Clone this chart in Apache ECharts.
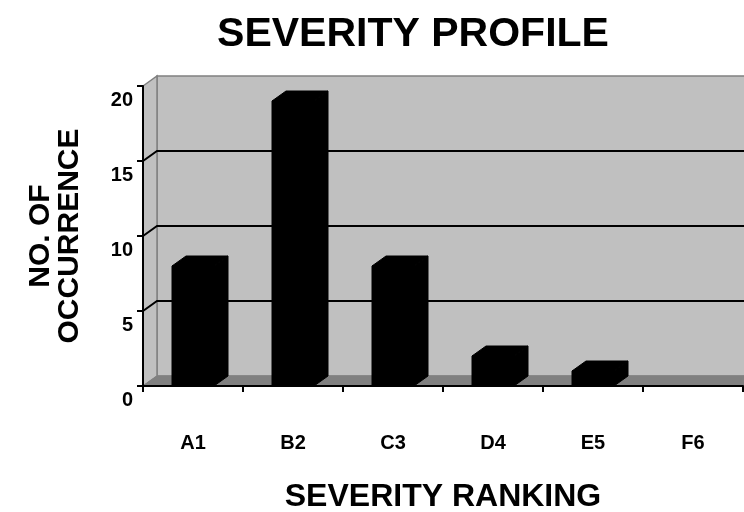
<!DOCTYPE html>
<html>
<head>
<meta charset="utf-8">
<script src="https://cdn.jsdelivr.net/npm/echarts@6/dist/echarts.min.js"></script>
<style>html,body{margin:0;padding:0;background:#fff;}#chart{width:744px;height:512px;}</style>
</head>
<body>
<div id="chart"></div>
<script>
const categories = ['A1', 'B2', 'C3', 'D4', 'E5', 'F6'];
const occurrences = [8, 19, 8, 2, 1, 0];
const gridLevels = [5, 10, 15];
const yMin = 0, yMax = 20, yStep = 5;

const DX = 14, DY = -10;
const FONT = "'Liberation Sans', Arial, sans-serif";

const chart = echarts.init(document.getElementById('chart'), null, {renderer: 'canvas'});

function wallsItem(params, api) {
  const cs = params.coordSys;
  const x = cs.x, y = cs.y, w = cs.width, h = cs.height;
  const wallStyle = {fill: '#c0c0c0', stroke: '#808080', lineWidth: 1.5};
  return {
    type: 'group',
    children: [
      {type: 'polygon', shape: {points: [[x + DX, y + DY], [x + w + DX + 40, y + DY], [x + w + DX + 40, y + h + DY], [x + DX, y + h + DY]]}, style: wallStyle},
      {type: 'polygon', shape: {points: [[x, y], [x + DX, y + DY], [x + DX, y + h + DY], [x, y + h]]}, style: wallStyle},
      {type: 'polygon', shape: {points: [[x, y + h], [x + DX, y + h + DY], [x + w + DX, y + h + DY], [x + w, y + h]]}, style: {fill: '#808080', stroke: '#808080', lineWidth: 1}}
    ]
  };
}

function gridLineItem(params, api) {
  const cs = params.coordSys;
  const v = api.value(0);
  const yv = api.coord([0, v])[1];
  return {
    type: 'polyline',
    shape: {points: [[cs.x, yv], [cs.x + DX, yv + DY], [cs.x + cs.width + DX + 40, yv + DY]]},
    style: {stroke: '#000', lineWidth: 2, fill: null}
  };
}

function barItem(params, api) {
  const idx = api.value(0);
  const val = api.value(1);
  if (!val) return null;
  const base = api.coord([idx, 0]);
  const top = api.coord([idx, val]);
  const bw = api.size([1, 0])[0] * 0.42;
  const x0 = base[0] - bw / 2, x1 = base[0] + bw / 2;
  const yT = top[1], yB = base[1];
  const st = {fill: '#000', stroke: '#000', lineWidth: 1};
  return {
    type: 'group',
    children: [
      {type: 'polygon', shape: {points: [[x1, yT], [x1 + DX, yT + DY], [x1 + DX, yB + DY], [x1, yB]]}, style: st},
      {type: 'polygon', shape: {points: [[x0, yT], [x0 + DX, yT + DY], [x1 + DX, yT + DY], [x1, yT]]}, style: st},
      {type: 'rect', shape: {x: x0, y: yT, width: bw, height: yB - yT}, style: st}
    ]
  };
}

const option = {
  backgroundColor: '#ffffff',
  animation: false,
  title: {
    text: 'SEVERITY PROFILE',
    left: 408,
    top: 9,
    textAlign: 'center',
    textStyle: {fontFamily: FONT, fontSize: 41, fontWeight: 'bold', color: '#000'}
  },
  grid: {left: 143, top: 86, width: 600, height: 300, containLabel: false, outerBoundsMode: 'none'},
  xAxis: {
    type: 'category',
    data: categories,
    boundaryGap: true,
    z: 10,
    axisLine: {show: true, lineStyle: {color: '#000', width: 2}},
    axisTick: {show: true, length: 6, lineStyle: {color: '#000', width: 2}},
    axisLabel: {margin: 47, fontFamily: FONT, fontSize: 20, fontWeight: 'bold', color: '#000'},
    splitLine: {show: false},
    name: 'SEVERITY RANKING',
    nameLocation: 'middle',
    nameGap: 95,
    nameTextStyle: {fontFamily: FONT, fontSize: 32, fontWeight: 'bold', color: '#000'}
  },
  yAxis: {
    type: 'value',
    min: yMin,
    max: yMax,
    interval: yStep,
    z: 10,
    axisLine: {show: true, lineStyle: {color: '#000', width: 2}},
    axisTick: {show: true, length: 6, lineStyle: {color: '#000', width: 2}},
    axisLabel: {margin: 10, fontFamily: FONT, fontSize: 20, fontWeight: 'bold', color: '#000', verticalAlign: 'top', lineHeight: 28},
    splitLine: {show: false},
    name: 'NO. OF\nOCCURRENCE',
    nameLocation: 'middle',
    nameGap: 59,
    nameTextStyle: {fontFamily: FONT, fontSize: 30, lineHeight: 29, fontWeight: 'bold', color: '#000', align: 'center'}
  },
  series: [
    {type: 'custom', z: 1, renderItem: wallsItem, data: [[0, 0]], silent: true, clip: false},
    {type: 'custom', z: 2, renderItem: gridLineItem, data: gridLevels.map(v => [v]), encode: {y: 0}, silent: true, clip: false},
    {type: 'custom', z: 3, renderItem: barItem, data: occurrences.map((v, i) => [i, v]), encode: {x: 0, y: 1}, clip: false}
  ]
};
chart.setOption(option);
</script>
</body>
</html>
